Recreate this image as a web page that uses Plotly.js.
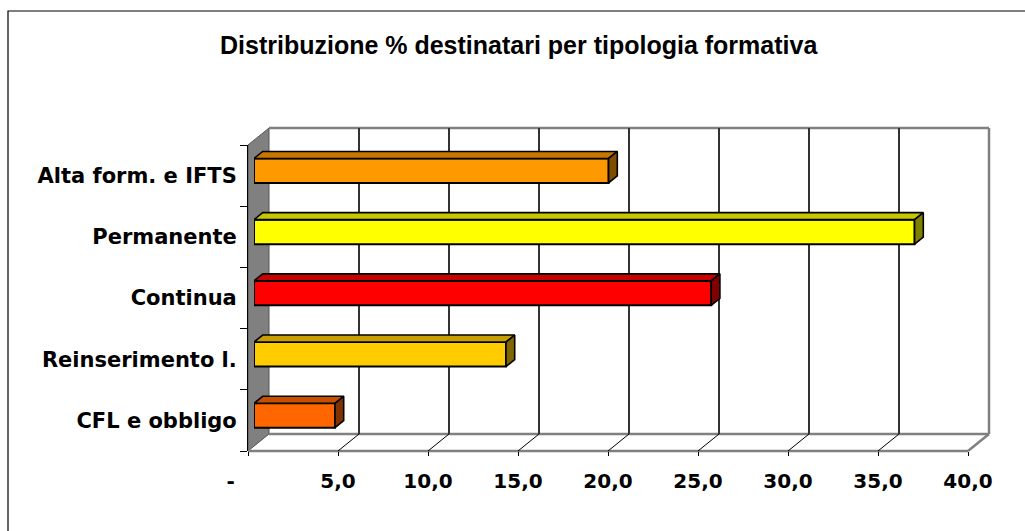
<!DOCTYPE html>
<html>
<head>
<meta charset="utf-8">
<script src="https://cdn.plot.ly/plotly-3.0.1.min.js"></script>
<style>
html,body{margin:0;padding:0;background:#fff;}
#chart{width:1025px;height:531px;}
</style>
</head>
<body>
<div id="chart"></div>
<script>
// ---- data (bottom to top) ----
const categories = ['CFL e obbligo', 'Reinserimento l.', 'Continua', 'Permanente', 'Alta form. e IFTS'];
const values = [4.5, 14.0, 25.4, 36.7, 19.7];
const barColors = ['#FF6600', '#FFCC00', '#FF0000', '#FFFF00', '#FF9900'];
const xTickVals = [0, 5, 10, 15, 20, 25, 30, 35, 40];
const xTickText = ['-\u00a0\u00a0\u00a0\u00a0\u00a0', '5,0', '10,0', '15,0', '20,0', '25,0', '30,0', '35,0', '40,0'];
const titleText = 'Distribuzione % destinatari per tipologia formativa';

// ---- geometry (pixels) ----
const W = 1025, H = 531;
const L = 248, T = 128, PW = 744, PH = 323;      // plot area
const FW = 720, FH = 306;                         // front plane size
const DX = 21, DY = 17;                           // depth of the 3D box
const BX = 6, BY = 4.9;                           // bar front-face depth
const BDX = 8.7, BDY = 7;                         // bar thickness in depth
const XMAX = 40;
const pxPerX = FW / XMAX, pxPerCat = FH / categories.length;

const px = v => (v - L) / PW;
const py = v => (T + PH - v) / PH;

function shade(hex, f) {
  const n = parseInt(hex.slice(1), 16);
  const r = Math.round(((n >> 16) & 255) * f), g = Math.round(((n >> 8) & 255) * f), b = Math.round((n & 255) * f);
  return 'rgb(' + r + ',' + g + ',' + b + ')';
}

const yPos = categories.map((c, i) => i);
const barW = 0.40;
const ddx = BDX / pxPerX, ddy = BDY / pxPerCat;

const traces = [];
// dummy trace so the back-plane subplot exists
traces.push({type: 'scatter', mode: 'markers', x: [0], y: [0], xaxis: 'x2', yaxis: 'y2',
  marker: {opacity: 0}, hoverinfo: 'skip', showlegend: false});
// front faces
traces.push({
  type: 'bar', orientation: 'h', x: values, y: yPos, width: barW,
  xaxis: 'x3', yaxis: 'y3',
  marker: {color: barColors, line: {color: '#000', width: 2}},
  hoverinfo: 'skip', showlegend: false
});
// top and side faces
values.forEach((v, i) => {
  const yt = yPos[i] + barW / 2, yb = yPos[i] - barW / 2;
  traces.push({
    type: 'scatter', mode: 'lines', xaxis: 'x3', yaxis: 'y3', fill: 'toself',
    x: [0, v, v + ddx, ddx, 0], y: [yt, yt, yt + ddy, yt + ddy, yt],
    fillcolor: shade(barColors[i], 0.78), line: {color: '#000', width: 1.6},
    hoverinfo: 'skip', showlegend: false
  });
  traces.push({
    type: 'scatter', mode: 'lines', xaxis: 'x3', yaxis: 'y3', fill: 'toself',
    x: [v, v + ddx, v + ddx, v, v], y: [yb, yb + ddy, yt + ddy, yt, yb],
    fillcolor: shade(barColors[i], 0.5), line: {color: '#000', width: 1.6},
    hoverinfo: 'skip', showlegend: false
  });
});
// category anchor trace for the front axis (invisible)
traces.push({type: 'scatter', mode: 'markers', x: values.map(() => 0), y: yPos,
  marker: {opacity: 0}, hoverinfo: 'skip', showlegend: false});

// ---- decorations ----
const shapes = [];
const gray = '#808080';
// outer border
shapes.push({type: 'rect', xref: 'paper', yref: 'paper', layer: 'below',
  x0: px(8), y0: py(11), x1: px(W + 20), y1: py(H + 20),
  line: {color: '#000', width: 1.2}, fillcolor: 'rgba(0,0,0,0)'});
// left wall
shapes.push({type: 'path', xref: 'paper', yref: 'paper', layer: 'below',
  path: 'M' + px(L) + ',' + py(T + PH) + ' L' + px(L + DX) + ',' + py(T + PH - DY) +
        ' L' + px(L + DX) + ',' + py(T) + ' L' + px(L) + ',' + py(T + DY) + ' Z',
  fillcolor: gray, line: {color: '#555', width: 1}});
// back plane frame: top and right
shapes.push({type: 'line', xref: 'paper', yref: 'paper', layer: 'below',
  x0: px(L + DX), y0: py(T), x1: px(L + DX + FW), y1: py(T), line: {color: gray, width: 2.5}});
shapes.push({type: 'line', xref: 'paper', yref: 'paper', layer: 'below',
  x0: px(L + DX + FW), y0: py(T), x1: px(L + DX + FW), y1: py(T + PH - DY), line: {color: gray, width: 2.5}});
// floor edges
shapes.push({type: 'line', xref: 'paper', yref: 'paper', layer: 'below',
  x0: px(L + DX), y0: py(T + PH - DY), x1: px(L + DX + FW), y1: py(T + PH - DY), line: {color: gray, width: 2.5}});
shapes.push({type: 'line', xref: 'paper', yref: 'paper', layer: 'below',
  x0: px(L), y0: py(T + PH), x1: px(L + FW), y1: py(T + PH), line: {color: gray, width: 2.5}});
shapes.push({type: 'line', xref: 'paper', yref: 'paper', layer: 'below',
  x0: px(L + FW), y0: py(T + PH), x1: px(L + FW + DX), y1: py(T + PH - DY), line: {color: gray, width: 2.5}});
// floor diagonals at interior ticks
xTickVals.filter(t => t > 0 && t < XMAX).forEach(t => {
  const fx = L + t * pxPerX;
  shapes.push({type: 'line', xref: 'paper', yref: 'paper', layer: 'below',
    x0: px(fx), y0: py(T + PH), x1: px(fx + DX), y1: py(T + PH - DY), line: {color: '#000', width: 1}});
});

const minorVals = [];
for (let i = 0; i <= categories.length; i++) minorVals.push(i - 0.5);

const layout = {
  width: W, height: H,
  paper_bgcolor: '#fff', plot_bgcolor: 'rgba(0,0,0,0)',
  margin: {l: L, r: W - L - PW, t: T, b: H - T - PH, pad: 0},
  showlegend: false,
  title: {text: '<b>' + titleText + '</b>', x: 0.506, xanchor: 'center', y: 1 - 45 / H, yanchor: 'middle',
    font: {family: 'Liberation Sans, Arial, sans-serif', size: 25, color: '#000'}},
  xaxis: {domain: [0, FW / PW], anchor: 'y', range: [0, XMAX], fixedrange: true,
    tickmode: 'array', tickvals: xTickVals, ticktext: xTickText,
    ticks: 'outside', ticklen: 4, tickcolor: '#000', tickwidth: 1,
    showgrid: false, zeroline: false, showline: false, ticklabelstandoff: 8,
    tickfont: {family: 'DejaVu Sans, Verdana, sans-serif', size: 20, color: '#000', weight: 700}},
  yaxis: {domain: [0, FH / PH], anchor: 'x', range: [-0.5, categories.length - 0.5], fixedrange: true,
    tickmode: 'array', tickvals: yPos, ticktext: categories, ticks: '',
    minor: {tickmode: 'array', tickvals: minorVals, ticks: 'outside', ticklen: 7, tickcolor: '#000', tickwidth: 1, showgrid: false},
    showgrid: false, zeroline: false, showline: true, linecolor: '#000', linewidth: 1, ticklabelstandoff: 6,
    tickfont: {family: 'DejaVu Sans, Verdana, sans-serif', size: 21, color: '#000', weight: 700}},
  xaxis2: {domain: [DX / PW, (DX + FW) / PW], anchor: 'y2', range: [0, XMAX], fixedrange: true,
    tickmode: 'array', tickvals: xTickVals.filter(t => t > 0 && t < XMAX),
    showticklabels: false, ticks: '', showgrid: true, gridcolor: '#333', gridwidth: 1.2,
    zeroline: false, showline: false},
  yaxis2: {domain: [DY / PH, 1], anchor: 'x2', range: [0, 1], visible: false, fixedrange: true},
  xaxis3: {domain: [BX / PW, (BX + FW) / PW], anchor: 'y3', range: [0, XMAX], visible: false, fixedrange: true},
  yaxis3: {domain: [BY / PH, (BY + FH) / PH], anchor: 'x3', range: [-0.5, categories.length - 0.5], visible: false, fixedrange: true},
  shapes: shapes
};

Plotly.newPlot('chart', traces, layout, {staticPlot: true, displayModeBar: false});
</script>
</body>
</html>
